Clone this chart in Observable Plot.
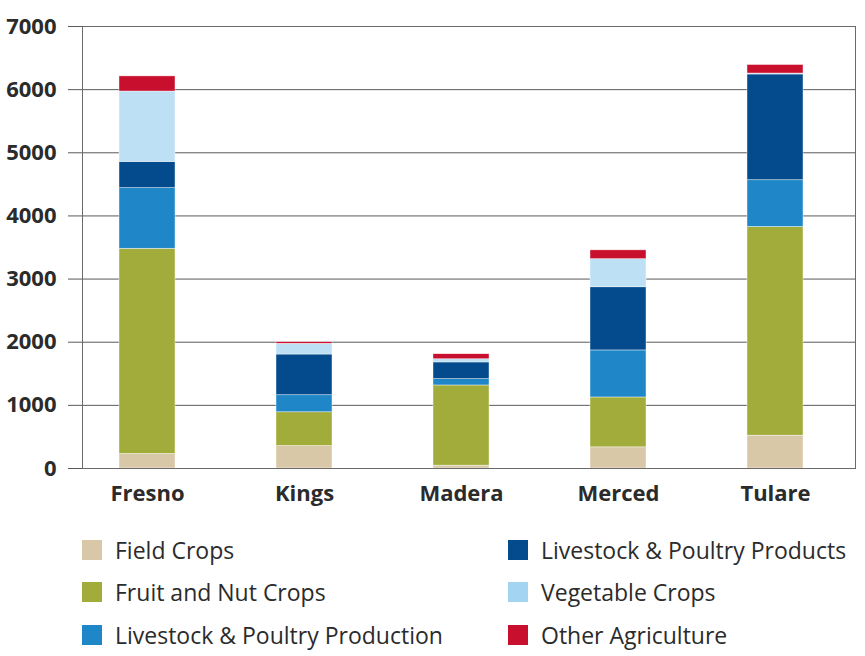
<!DOCTYPE html>
<html>
<head>
<meta charset="utf-8">
<script src="https://cdn.jsdelivr.net/npm/d3@7"></script>
<script src="https://cdn.jsdelivr.net/npm/@observablehq/plot@0.6"></script>
<style>
  body { margin: 0; background: #fff; font-family: "Open Sans", sans-serif; }
  #wrap { position: relative; width: 865px; height: 656px; }
  .leg { position: absolute; display: flex; align-items: center; font-size: 23px; color: #2b2b2b; white-space: nowrap; }
  .sw { width: 20px; height: 20px; margin-right: 13px; flex: none; }
</style>
</head>
<body>
<div id="wrap"></div>
<script>
const counties = ["Fresno", "Kings", "Madera", "Merced", "Tulare"];
const categories = ["Field Crops", "Fruit and Nut Crops", "Livestock & Poultry Production", "Livestock & Poultry Products", "Vegetable Crops", "Other Agriculture"];
const colors = ["#d8c8a8", "#a2ac3b", "#1f87c8", "#034b8c", "#bde0f5", "#c8102e"];
const legendColors = ["#d8c8a8", "#a2ac3b", "#1f87c8", "#034b8c", "#a3d5f2", "#c8102e"];
// values per category, in county order
const fieldCrops      = [230, 355, 45, 335, 520];
const fruitNutCrops   = [3250, 535, 1270, 790, 3305];
const livestockProd   = [960, 270, 100, 745, 740];
const livestockProds  = [415, 645, 265, 1000, 1675];
const vegetableCrops  = [1115, 170, 50, 445, 15];
const otherAg         = [240, 25, 80, 140, 135];
const yTicks = [0, 1000, 2000, 3000, 4000, 5000, 6000, 7000];

const series = [fieldCrops, fruitNutCrops, livestockProd, livestockProds, vegetableCrops, otherAg];
const data = [];
categories.forEach((c, i) => counties.forEach((k, j) => data.push({county: k, category: c, value: series[i][j]})));

const chart = Plot.plot({
  width: 865,
  height: 515,
  marginTop: 26,
  marginBottom: 47,
  marginLeft: 82,
  marginRight: 10,
  style: {fontFamily: "Open Sans, sans-serif", fontSize: "22px", fontWeight: 700, color: "#2b2b2b"},
  x: {domain: counties, range: [68.5, 853.5], paddingInner: 0.643, paddingOuter: 0.3215, label: null},
  y: {domain: [0, 7000], label: null},
  color: {domain: categories, range: colors},
  marks: [
    Plot.gridY(yTicks, {stroke: "#5a5a5a", strokeOpacity: 1}),
    Plot.barY(data, {x: "county", y: "value", fill: "category", stroke: "white", strokeWidth: 0.6, strokeOpacity: 0.7}),
    Plot.frame({stroke: "#6a6a6a"}),
    Plot.axisY({ticks: yTicks, tickSize: 14, tickPadding: 12, stroke: "#5a5a5a", tickFormat: d => String(d), label: null}),
    Plot.axisX({tickSize: 0, tickPadding: 17, label: null})
  ]
});
const wrap = document.getElementById("wrap");
chart.style.position = "absolute";
chart.style.left = "0px";
chart.style.top = "0px";
wrap.appendChild(chart);

// legend: two columns of three
const colX = [82, 508];
const rowY = [540, 582, 625];
categories.forEach((c, i) => {
  const col = Math.floor(i / 3), row = i % 3;
  const d = document.createElement("div");
  d.className = "leg";
  d.style.left = colX[col] + "px";
  d.style.top = (rowY[row] - 5) + "px";
  d.style.height = "30px";
  d.innerHTML = `<div class="sw" style="background:${legendColors[i]}"></div><span>${c}</span>`;
  wrap.appendChild(d);
});
</script>
</body>
</html>
